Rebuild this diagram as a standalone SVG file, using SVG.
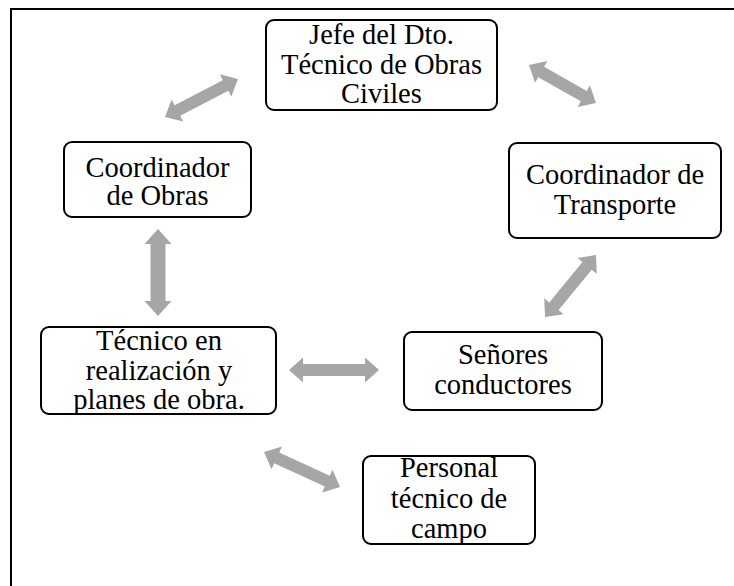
<svg xmlns="http://www.w3.org/2000/svg" width="734" height="586" viewBox="0 0 734 586">
<style>
.box{fill:#fff;stroke:#000;stroke-width:2}
.t{font-family:'Liberation Serif','DejaVu Serif',serif;font-size:28.5px;fill:#000;text-anchor:middle}
.arr{fill:#a6a6a6;stroke:none}
</style>
<rect x="0" y="0" width="734" height="586" fill="#fff"/>
<rect x="11" y="9" width="800" height="700" fill="none" stroke="#000" stroke-width="2"/>
<g id="connectors">
<polygon class="arr" transform="translate(165,117) rotate(-27.5)" points="0,0 14,-12.5 14,-6 68.3,-6 68.3,-12.5 82.3,0 68.3,12.5 68.3,6 14,6 14,12.5"/>
<polygon class="arr" transform="translate(529,65) rotate(29.6)" points="0,0 14,-12.5 14,-6 63,-6 63,-12.5 77,0 63,12.5 63,6 14,6 14,12.5"/>
<polygon class="arr" transform="translate(596,255) rotate(129.4)" points="0,0 14,-12.5 14,-6 66.3,-6 66.3,-12.5 80.3,0 66.3,12.5 66.3,6 14,6 14,12.5"/>
<polygon class="arr" transform="translate(158,229) rotate(90)" points="0,0 15,-13.5 15,-7.5 72,-7.5 72,-13.5 87,0 72,13.5 72,7.5 15,7.5 15,13.5"/>
<polygon class="arr" transform="translate(289,370)" points="0,0 14,-12.5 14,-6 76,-6 76,-12.5 90,0 76,12.5 76,6 14,6 14,12.5"/>
<polygon class="arr" transform="translate(264,452) rotate(24.7)" points="0,0 14,-12.5 14,-6 69.7,-6 69.7,-12.5 83.7,0 69.7,12.5 69.7,6 14,6 14,12.5"/>
</g>
<g id="jefe">
<rect class="box" x="266" y="20" width="231" height="90" rx="8"/>
<text class="t" font-family="Liberation Serif, serif" x="381.5" y="44">Jefe del Dto.</text>
<text class="t" x="381.5" y="74">Técnico de Obras</text>
<text class="t" x="381.5" y="103">Civiles</text>
</g>
<g id="coord-obras">
<rect class="box" x="64" y="142" width="187" height="75" rx="8"/>
<text class="t" x="157.5" y="177">Coordinador</text>
<text class="t" x="157.5" y="205">de Obras</text>
</g>
<g id="coord-transporte">
<rect class="box" x="509" y="143" width="212" height="95" rx="8"/>
<text class="t" x="615" y="184">Coordinador de</text>
<text class="t" x="615" y="214">Transporte</text>
</g>
<g id="tecnico">
<rect class="box" x="41" y="327" width="235" height="87" rx="8"/>
<text class="t" x="159" y="350">Técnico en</text>
<text class="t" x="159" y="380">realización y</text>
<text class="t" x="159" y="409">planes de obra.</text>
</g>
<g id="senores">
<rect class="box" x="404" y="332" width="198" height="78" rx="8"/>
<text class="t" x="503" y="364">Señores</text>
<text class="t" x="503" y="394">conductores</text>
</g>
<g id="personal">
<rect class="box" x="363" y="456" width="172" height="88" rx="8"/>
<text class="t" x="449" y="477">Personal</text>
<text class="t" x="449" y="508">técnico de</text>
<text class="t" x="449" y="538">campo</text>
</g>
</svg>
